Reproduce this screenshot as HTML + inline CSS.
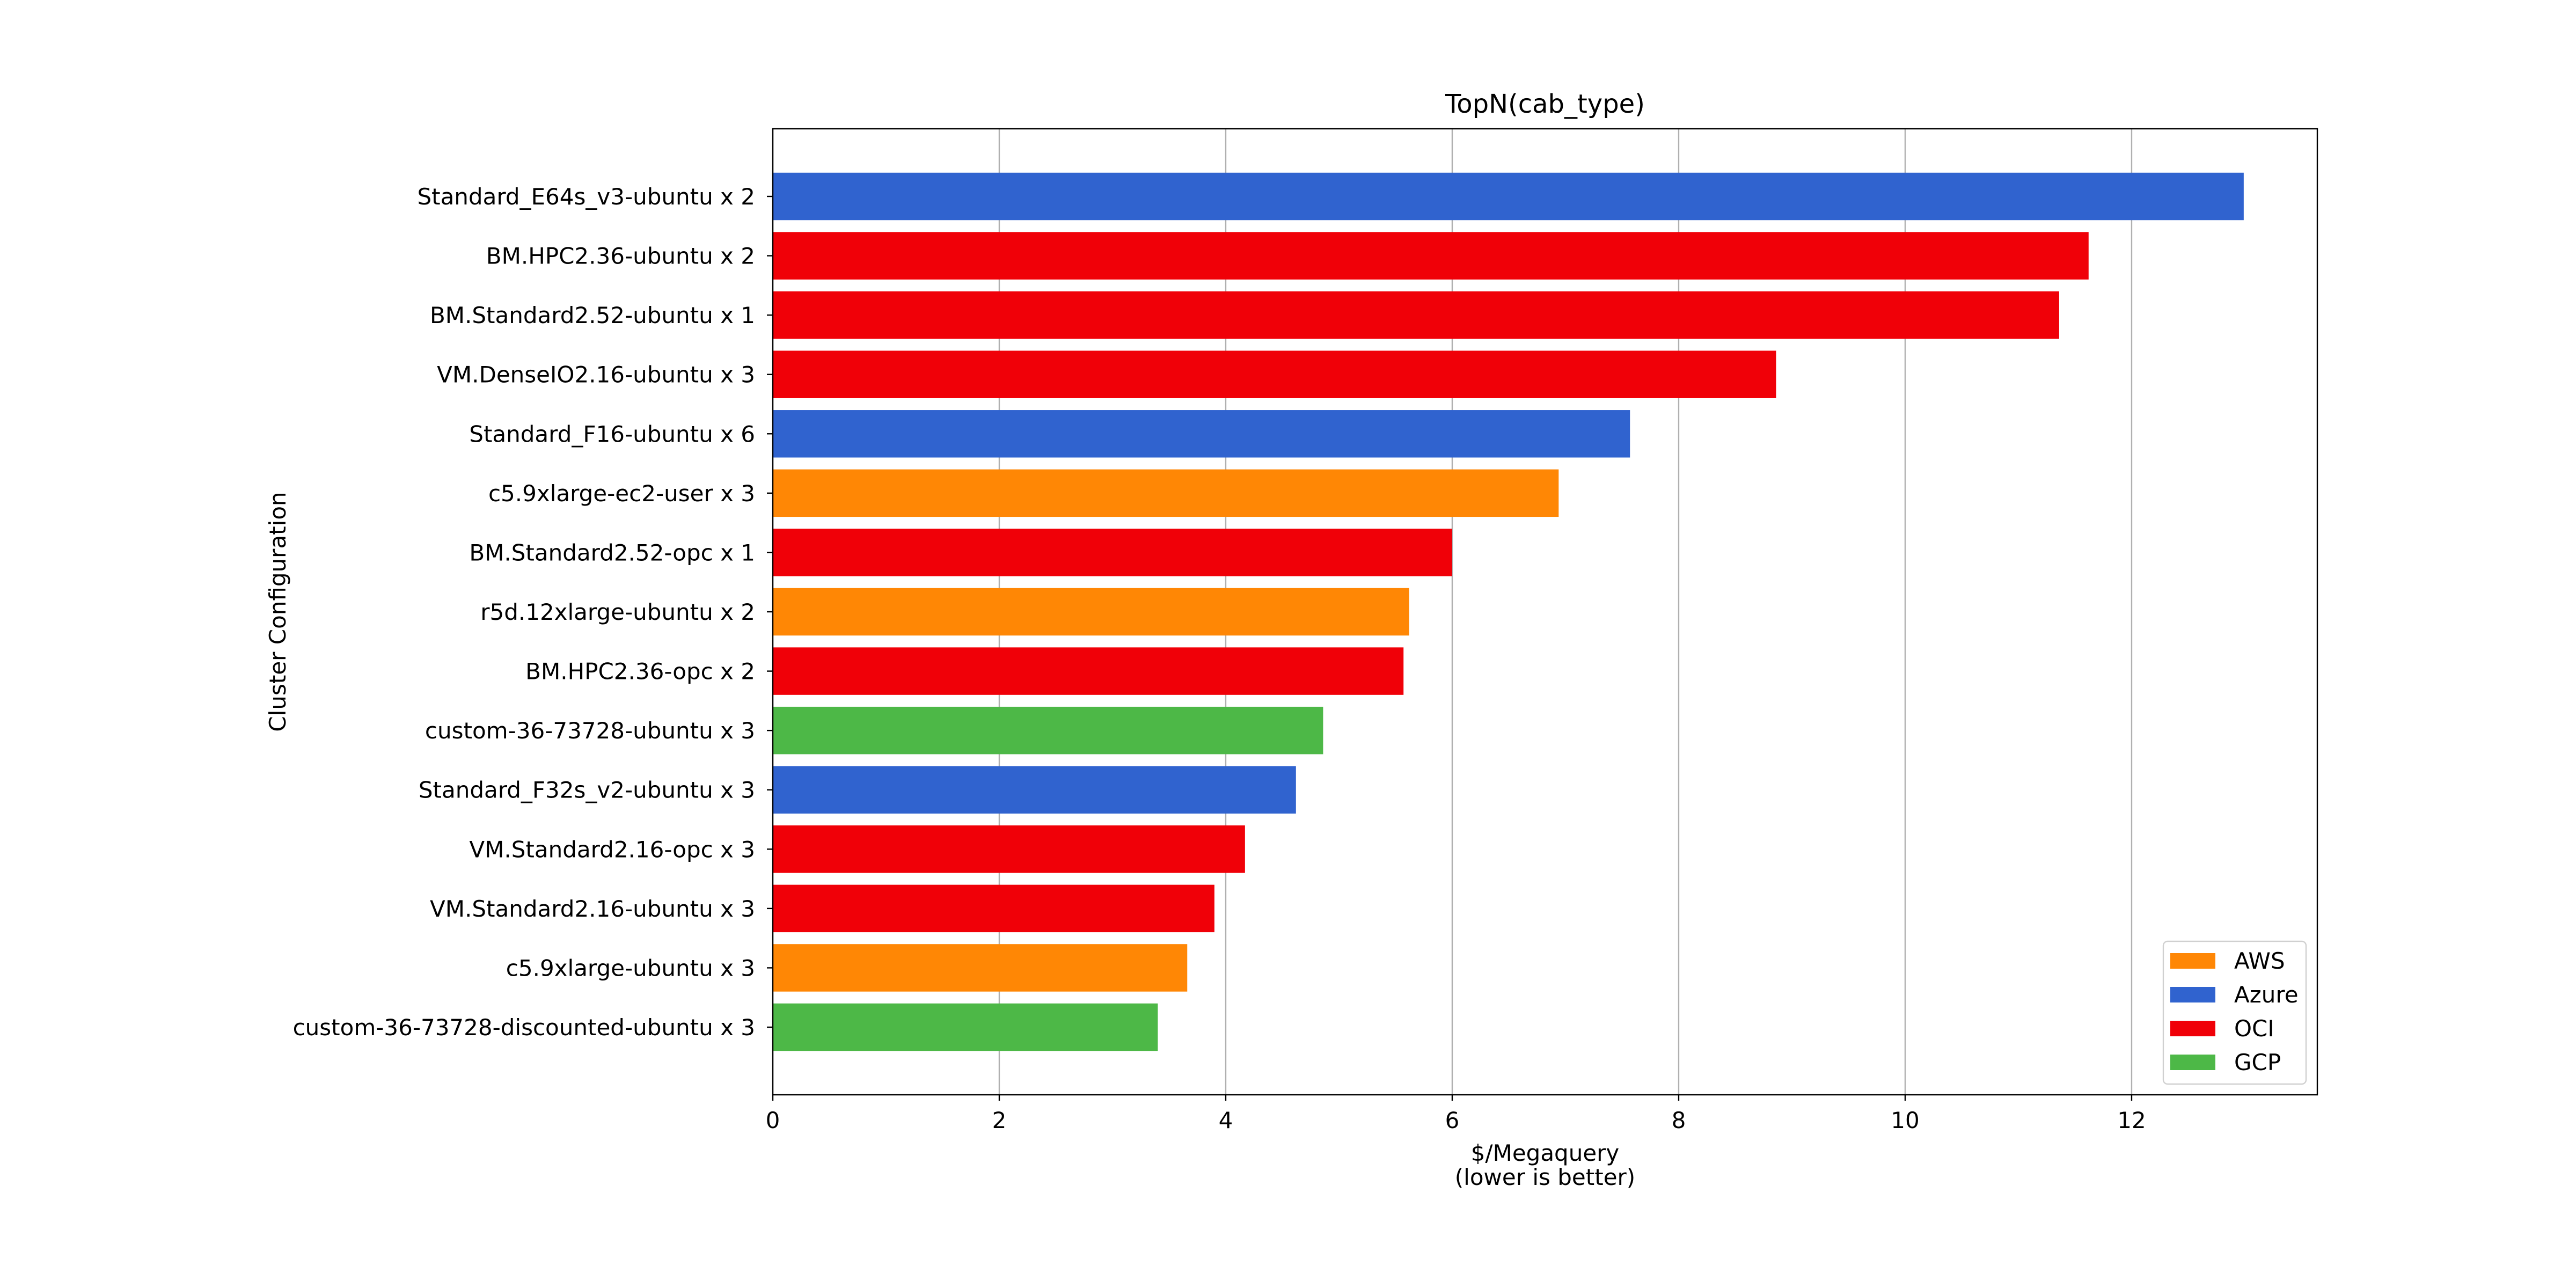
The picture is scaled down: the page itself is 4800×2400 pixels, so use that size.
<!DOCTYPE html>
<html><head><meta charset="utf-8"><style>
html,body{margin:0;padding:0;background:#fff;}
svg{display:block;font-family:"DejaVu Sans","Liberation Sans",sans-serif;}
</style></head><body>
<svg id="chart" width="4800" height="2400" viewBox="0 0 4800 2400" xmlns="http://www.w3.org/2000/svg">
<rect x="0" y="0" width="4800" height="2400" fill="#fff"/>
<g id="grid"></g>
<g id="bars"></g>
<g id="axes"></g>
<text x="2879" y="210" font-size="48" text-anchor="middle">TopN(cab_type)</text>
<text x="2879" y="2163" font-size="42" text-anchor="middle">$/Megaquery</text>
<text x="2879" y="2208" font-size="42" text-anchor="middle">(lower is better)</text>
<text x="0" y="0" font-size="42" text-anchor="middle" transform="translate(532,1140) rotate(-90)">Cluster Configuration</text>
<g id="legend"></g>
</svg>
<script>
const categories = ["Standard_E64s_v3-ubuntu x 2","BM.HPC2.36-ubuntu x 2","BM.Standard2.52-ubuntu x 1","VM.DenseIO2.16-ubuntu x 3","Standard_F16-ubuntu x 6","c5.9xlarge-ec2-user x 3","BM.Standard2.52-opc x 1","r5d.12xlarge-ubuntu x 2","BM.HPC2.36-opc x 2","custom-36-73728-ubuntu x 3","Standard_F32s_v2-ubuntu x 3","VM.Standard2.16-opc x 3","VM.Standard2.16-ubuntu x 3","c5.9xlarge-ubuntu x 3","custom-36-73728-discounted-ubuntu x 3"];
const values = [12.99,11.62,11.36,8.86,7.57,6.94,6.0,5.62,5.57,4.86,4.62,4.17,3.90,3.66,3.40];
const providers = ["Azure","OCI","OCI","OCI","Azure","AWS","OCI","AWS","OCI","GCP","Azure","OCI","OCI","AWS","GCP"];
const legendNames = ["AWS","Azure","OCI","GCP"];
const xTicks = [0,2,4,6,8,10,12];

const colors = {AWS:"#ff8705",Azure:"#3063cf",OCI:"#f00008",GCP:"#4db847"};
const NS="http://www.w3.org/2000/svg";
const L=1440,R=4318,T=240,B=2040,xMax=13.64;
const x=v=>L+(v/xMax)*(R-L);
const n=categories.length, pad=126, step=(B-T-2*pad)/(n-1);
const yc=i=>T+pad+i*step;
function mk(tag,attrs,parent){const e=document.createElementNS(NS,tag);for(const k in attrs)e.setAttribute(k,attrs[k]);parent.appendChild(e);return e;}
const grid=document.getElementById('grid'),bars=document.getElementById('bars'),axes=document.getElementById('axes'),legend=document.getElementById('legend');
xTicks.forEach(t=>{
  const g=mk('line',{x1:x(t),x2:x(t),y1:T,y2:B,stroke:'#b0b0b0','stroke-width':2.4},grid);
  
  
  const tk=mk('line',{x1:x(t),x2:x(t),y1:B,y2:B+11,stroke:'#000','stroke-width':2.4},axes);
  
  
  const lb=mk('text',{x:x(t),y:B+62,'font-size':42,'text-anchor':'middle'},axes);
  lb.textContent=t;
  
  
});
categories.forEach((c,i)=>{
  const h=step*0.8;
  const r=mk('rect',{x:L,y:yc(i)-h/2,width:x(values[i])-L,height:h,fill:colors[providers[i]]},bars);
  
  
  const tk=mk('line',{x1:L-11,x2:L,y1:yc(i),y2:yc(i),stroke:'#000','stroke-width':2.4},axes);
  
  
  const lb=mk('text',{x:L-33,y:yc(i)+15,'font-size':42,'text-anchor':'end'},axes);
  lb.textContent=c;
  
  
});
const frame=mk('rect',{x:L,y:T,width:R-L,height:B-T,fill:'none',stroke:'#000','stroke-width':2.4},axes);


const lbox=mk('rect',{x:4031,y:1754,width:266,height:266,rx:8,fill:'#fff','fill-opacity':0.8,stroke:'#d0d0d0','stroke-width':2.4},legend);


legendNames.forEach((nm,i)=>{
  const cy=1790+i*63;
  const p=mk('rect',{x:4044,y:cy-14,width:84,height:29,fill:colors[nm]},legend);
  
  
  const t=mk('text',{x:4163,y:cy+15,'font-size':42},legend);
  t.textContent=nm;
  
  
});
</script>
</body></html>
